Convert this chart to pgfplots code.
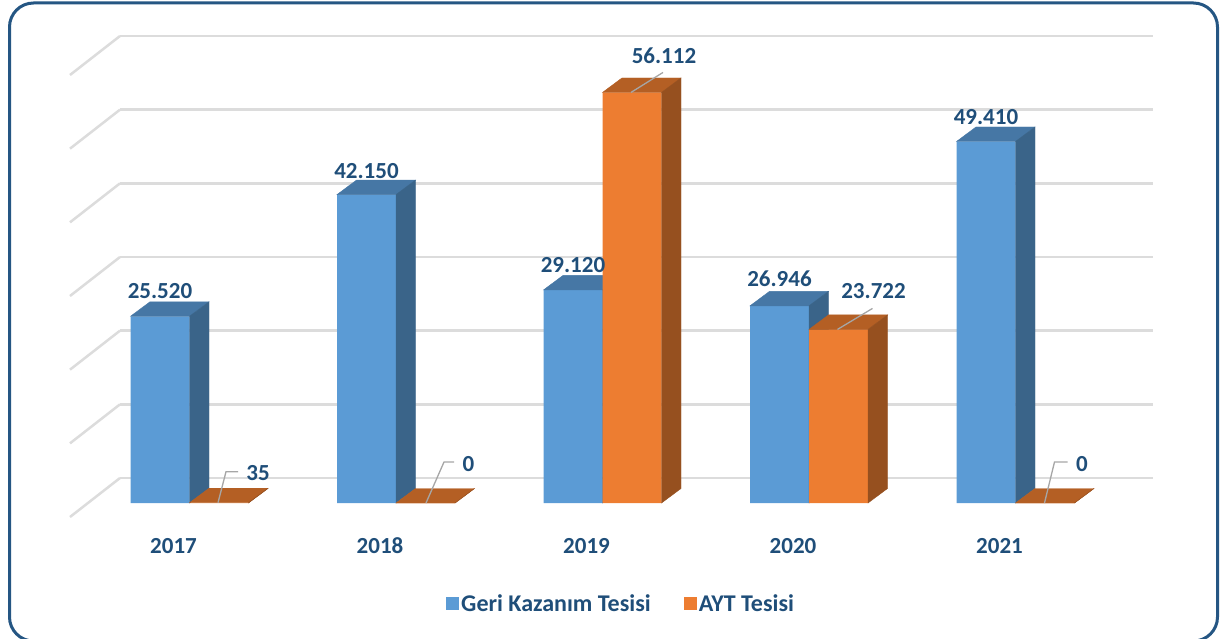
\documentclass[border=0pt]{standalone}
\usepackage{pgfplots}
\pgfplotsset{compat=1.18}
\usepackage{pgfplotstable}
\usepackage{fontspec}
\setmainfont{Carlito}
\definecolor{bluefront}{HTML}{5B9BD5}
\definecolor{bluetop}{HTML}{4677A5}
\definecolor{blueside}{HTML}{3A6489}
\definecolor{orfront}{HTML}{ED7D31}
\definecolor{ortop}{HTML}{B45F24}
\definecolor{orside}{HTML}{96501F}
\definecolor{labcol}{HTML}{1F4E79}
\definecolor{framecol}{HTML}{255683}
\definecolor{gridcol}{HTML}{DCDCDC}
\definecolor{leadcol}{HTML}{A6A6A6}
\newcommand{\lab}{\fontsize{23}{27}\selectfont\bfseries}
\newcommand{\legfont}{\fontsize{24}{28}\selectfont\bfseries}
% height (pt) of the bar whose value is the current point meta
\newcommand{\barheights}{%
  \pgfmathfloattofixed{\pgfplotspointmeta}\let\rawv\pgfmathresult
  \edef\hh{\fpeval{14.5-\rawv*439/60000}}%
  \edef\h{\fpeval{0-\rawv*439/60000}}%
}
% 3D faces of a bar: drawn as a plot mark at (category, value)
\pgfdeclareplotmark{bluebox}{%
  \barheights
  \fill[bluetop] (-59pt,0pt) -- (0pt,0pt) -- (19.5pt,14.5pt) -- (-39.5pt,14.5pt) -- cycle;
  \fill[blueside] (0pt,0pt) -- (19.5pt,14.5pt) -- (19.5pt,\hh pt) -- (0pt,\h pt) -- cycle;
}
\pgfdeclareplotmark{orbox}{%
  \barheights
  \edef\aX{\fpeval{29.5+\ax}}\edef\bX{\fpeval{29.5+\bx}}\edef\cX{\fpeval{29.5+\cx}}%
  \fill[ortop] (0pt,0pt) -- (59pt,0pt) -- (78.5pt,14.5pt) -- (19.5pt,14.5pt) -- cycle;
  \fill[orside] (59pt,0pt) -- (78.5pt,14.5pt) -- (78.5pt,\hh pt) -- (59pt,\h pt) -- cycle;
  \draw[leadcol, line width=1.3pt] (\aX pt,\ay pt) -- (\bX pt,\by pt) -- (\cX pt,\cy pt);
}

\pgfplotstableread{
x v lx ly
0 25520 0 18
1 42150 0 16
2 29120 0 17
3 26946 0 19
4 49410 0 17
}\geri
\pgfplotstableread{
x v lx ly ax ay bx by cx cy
0 35    39 22 -1   0  7   31  19   31
1 0     43 32 0.5  0  18.5 41 28.5 41
2 56112 32 29 -1   0  31  20  31   20
3 23722 35 31 -1   0  34  21  34   21
4 0     37 32 -0.5 0  9.5 41  22.5 41
}\ayt

\begin{document}
\begin{tikzpicture}[x=1pt,y=1pt]
\useasboundingbox (0,0) rectangle (1223,638);
% back wall with gridlines
\begin{axis}[at={(120pt,160pt)}, anchor=south west, scale only axis,
  width=1033pt, height=442pt, xmin=0, xmax=1, ymin=0, ymax=60000,
  axis line style={draw=none}, xtick=\empty, ytick={0,10000,20000,30000,40000,50000,60000},
  yticklabels={}, scaled y ticks=false, major tick length=0pt, ymajorgrids,
  grid style={gridcol, line width=2.5pt}, clip=false]
  \pgfplotsinvokeforeach{0,10000,20000,30000,40000,50000,60000}{
    \draw[gridcol, line width=2.5pt] (axis cs:0,#1) -- ++(-50pt,-39pt);
  }
\end{axis}
% front plane with 3D bars
\begin{axis}[at={(86.25pt,135pt)}, anchor=south west, scale only axis,
  width=1032.5pt, height=439pt, xmin=-0.5, xmax=4.5, ymin=0, ymax=60000,
  axis line style={draw=none}, major tick length=0pt, ytick=\empty,
  xtick={0,1,2,3,4}, xticklabels={2017,2018,2019,2020,2021},
  xticklabel style={font=\lab, text=labcol, anchor=base, xshift=-16pt, yshift=-50pt},
  clip=false, clip marker paths=true,
  legend style={at={(0.518,-0.23)}, anchor=center, draw=none, fill=none,
    legend columns=2, font=\legfont, text=labcol,
    /tikz/every even column/.append style={column sep=31pt}},
  legend image code/.code={\fill[#1,draw=none] (-4pt,-6.5pt) rectangle (9pt,6.5pt);}
  ]
  % blue series: front faces
  \addplot[ybar, bar width=59pt, bar shift=-29.5pt, fill=bluefront, draw=none]
    table[x=x,y=v]{\geri};
  \addlegendentry{Geri Kazanım Tesisi}
  % blue series: top and side faces (invisible nodes keep point meta computed)
  \addplot[forget plot, only marks, mark=bluebox, point meta=y,
    nodes near coords={\phantom{0}},
    every node near coord/.style={inner sep=0pt}]
    table[x=x,y=v]{\geri};
  % orange series: front faces
  \addplot[ybar, bar width=59pt, bar shift=29.5pt, fill=orfront, draw=none]
    table[x=x,y=v]{\ayt};
  \addlegendentry{AYT Tesisi}
  % orange series: top and side faces, leader lines, value labels
  \addplot[forget plot, only marks, mark=orbox, point meta=y,
    visualization depends on={\thisrow{lx} \as \lx},
    visualization depends on={\thisrow{ly} \as \ly},
    visualization depends on={\thisrow{ax} \as \ax},
    visualization depends on={\thisrow{ay} \as \ay},
    visualization depends on={\thisrow{bx} \as \bx},
    visualization depends on={\thisrow{by} \as \by},
    visualization depends on={\thisrow{cx} \as \cx},
    visualization depends on={\thisrow{cy} \as \cy},
    nodes near coords={\pgfmathprintnumber[fixed,precision=0,1000 sep={.},assume math mode=true]{\pgfplotspointmeta}},
    every node near coord/.style={font=\lab, text=labcol, anchor=base, inner sep=0pt,
      xshift=29.5pt+\lx pt, yshift=\ly pt}]
    table[x=x,y=v]{\ayt};
  % blue value labels, drawn last so they stay on top
  \addplot[forget plot, only marks, mark=none, point meta=y,
    visualization depends on={\thisrow{lx} \as \lx},
    visualization depends on={\thisrow{ly} \as \ly},
    nodes near coords={\pgfmathprintnumber[fixed,precision=0,1000 sep={.},assume math mode=true]{\pgfplotspointmeta}},
    every node near coord/.style={font=\lab, text=labcol, anchor=base, inner sep=0pt,
      xshift=-29.5pt+\lx pt, yshift=\ly pt}]
    table[x=x,y=v]{\geri};
\end{axis}
% frame
\draw[framecol, line width=3pt, rounded corners=24pt] (9.5,635) rectangle (1217.5,-3);
\end{tikzpicture}
\end{document}
